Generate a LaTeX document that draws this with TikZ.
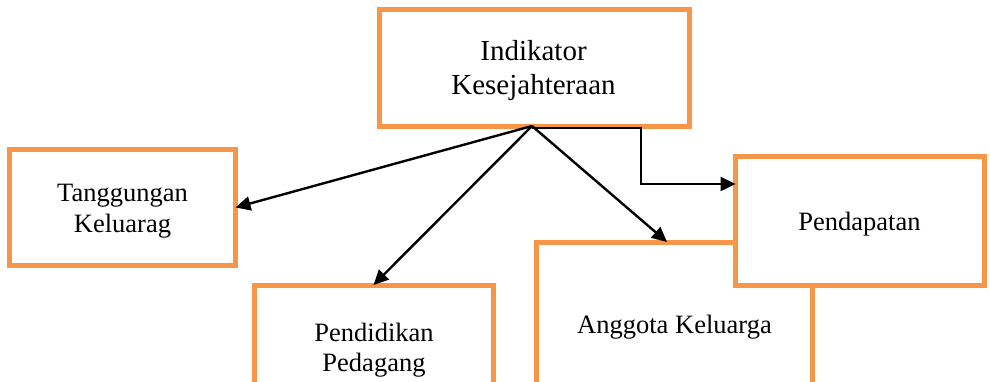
\documentclass[tikz,border=0pt]{standalone}
\usepackage{fontspec}
\setmainfont{Liberation Serif}
\usetikzlibrary{arrows.meta,calc}
\definecolor{boxorange}{HTML}{F79646}
\begin{document}
\begin{tikzpicture}[x=1pt,y=-1pt,
  box/.style={draw=boxorange, line width=5pt, fill=white, rectangle, inner sep=0pt, outer sep=0pt},
  lbl/.style={align=center, inner sep=0pt, font=\fontsize{26.5}{30.5}\selectfont},
  biglbl/.style={align=center, inner sep=0pt, font=\fontsize{29}{34}\selectfont},
  conn/.style={line width=2.4pt, -{Triangle[length=15pt,width=14pt]}}]
\useasboundingbox (0,0) rectangle (990,381);
\clip (0,0) rectangle (990,381);
% boxes
\node[box, minimum width=239pt, minimum height=130pt] (pend) at (373.5,350) {};
\node[box, minimum width=276pt, minimum height=170pt] (ang) at (674,327) {};
\node[box, minimum width=249pt, minimum height=129pt] (pen) at (860,220.5) {};
\node[box, minimum width=226pt, minimum height=116pt] (tan) at (122.5,207.5) {};
\node[box, minimum width=310pt, minimum height=116.5pt] (ind) at (534.5,67.75) {};
% texts
\node[biglbl] (indt) at (533.5,71) {Indikator\\Kesejahteraan};
\node[lbl] (tant) at (122.5,211.4) {Tanggungan\\Keluarag};
\node[lbl] (pent) at (859.5,223.8) {Pendapatan};
\node[lbl] (angt) at (674.5,326.8) {Anggota Keluarga};
\node[lbl] (pendt) at (374,350.1) {Pendidikan\\Pedagang};
% connectors
\coordinate (o) at ($(ind.south)+(-2.5,0)$);
\coordinate (o2) at ($(ind.south)+(-2.5,2)$);
\coordinate (elb) at (641,184);
\draw[conn] (o) -- (tan.east);
\draw[conn] (o) -- (pend.north);
\draw[conn] (o) -- ($(ang.north)+(-7,0)$);
\draw[conn] (o2) -| (elb) -- (elb -| pen.west);
\end{tikzpicture}
\end{document}
